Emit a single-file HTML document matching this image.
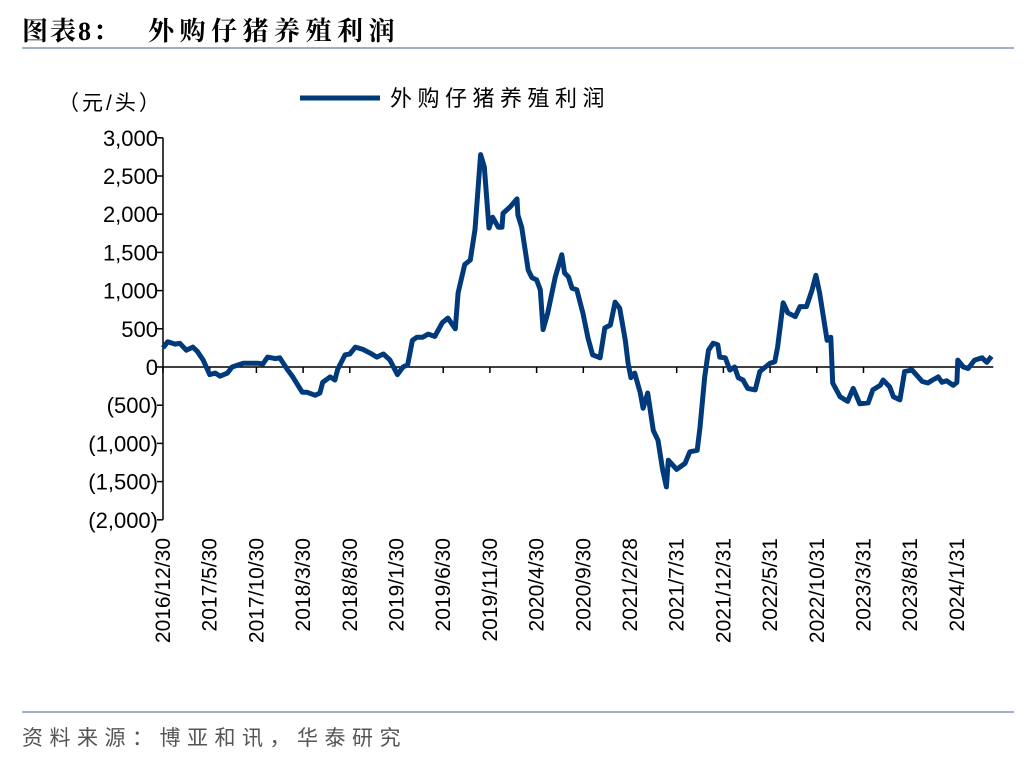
<!DOCTYPE html>
<html><head><meta charset="utf-8">
<style>
body{margin:0;background:#fff;width:1036px;height:760px;overflow:hidden;font-family:"Liberation Sans","Noto Sans CJK SC",sans-serif;}
svg text{font-family:"Liberation Sans","Noto Sans CJK SC",sans-serif;}
</style></head>
<body>
<svg id="chart" width="1036" height="760">
<text x="22" y="40" font-size="26" font-weight="bold" fill="#000" style="font-family:'Liberation Serif','Noto Serif CJK SC',serif"><tspan letter-spacing="2">图表8：</tspan><tspan x="148" letter-spacing="5.5">外购仔猪养殖利润</tspan></text>
<line x1="22" y1="48" x2="1014" y2="48" stroke="#7f93b0" stroke-width="1.5"/>
<text x="58" y="110" font-size="21" fill="#000" letter-spacing="3">（元/头）</text>
<line x1="300" y1="98" x2="380" y2="98" stroke="#003a7a" stroke-width="5"/>
<text x="390" y="106" font-size="22" fill="#000" letter-spacing="5.5">外购仔猪养殖利润</text>
<g id="axes"></g>
<path id="series" fill="none" stroke="#003a7a" stroke-width="5" stroke-linejoin="round"/>
<line x1="22" y1="712" x2="1014" y2="712" stroke="#7f93b0" stroke-width="1.5"/>
<text x="22" y="745" font-size="21" fill="#555" letter-spacing="6.5">资料来源：博亚和讯，华泰研究</text>
</svg>
<script>
const months=[0,0.5,1.3,1.8,2.5,3.2,3.7,4.3,5.0,5.6,6.1,6.9,7.4,8.6,10.1,10.7,11.2,12.0,12.5,13.3,13.9,14.9,15.4,16.3,16.8,17.1,17.9,18.4,18.7,19.5,20.0,20.6,21.4,22.2,22.9,23.6,24.3,25.1,25.7,26.2,26.7,27.2,27.8,28.4,29.1,29.9,30.5,31.3,31.6,32.3,32.9,33.4,34.0,34.4,34.9,35.3,35.9,36.3,36.4,37.2,37.9,38.0,38.4,39.1,39.5,40.0,40.4,40.7,41.2,42.0,42.7,43.0,43.4,43.8,44.3,44.97,45.5,46.0,46.8,47.3,47.9,48.4,48.9,49.5,49.8,50.1,50.5,51.1,51.4,51.9,52.5,53.0,53.5,53.9,54.1,55.0,55.9,56.4,57.2,57.5,58.0,58.4,58.9,59.4,59.6,60.2,60.7,61.2,61.6,62.1,62.6,63.4,63.9,64.5,65.0,65.5,65.8,66.4,66.9,67.7,68.2,68.9,69.5,69.9,70.3,71.1,71.5,71.7,72.5,73.3,73.9,74.6,75.5,76.0,76.8,77.1,77.8,78.2,78.9,79.4,80.2,81.3,81.9,82.4,83.0,83.4,83.9,84.6,85.0,85.1,85.7,86.2,86.9,87.7,88.2,88.7];
const profit=[250,330,300,310,220,260,200,90,-100,-80,-120,-80,0,50,50,40,130,110,120,-30,-130,-330,-330,-370,-340,-200,-130,-170,-30,160,170,260,230,180,130,170,90,-100,0,30,350,390,390,430,400,580,640,500,970,1340,1400,1800,2780,2620,1820,1960,1830,1830,2010,2100,2200,1990,1830,1270,1170,1140,1010,490,710,1180,1470,1230,1180,1030,1010,700,380,160,120,510,550,850,770,350,50,-140,-80,-340,-540,-340,-830,-960,-1350,-1570,-1220,-1340,-1260,-1110,-1090,-790,-130,220,310,290,130,120,-40,0,-140,-170,-280,-300,-60,0,50,70,260,840,710,660,790,790,1010,1200,970,350,390,-210,-390,-450,-280,-480,-470,-300,-240,-170,-260,-390,-430,-60,-40,-190,-210,-170,-130,-200,-180,-240,-200,90,0,-20,90,120,60,140];
const yTicks=[3000,2500,2000,1500,1000,500,0,-500,-1000,-1500,-2000];
const yTickLabels=["3,000","2,500","2,000","1,500","1,000","500","0","(500)","(1,000)","(1,500)","(2,000)"];
const xTickMonths=[0,5,10,15,20,25,30,35,40,45,50,55,60,65,70,75,80,85];
const xTickLabels=["2016/12/30","2017/5/30","2017/10/30","2018/3/30","2018/8/30","2019/1/30","2019/6/30","2019/11/30","2020/4/30","2020/9/30","2021/2/28","2021/7/31","2021/12/31","2022/5/31","2022/10/31","2023/3/31","2023/8/31","2024/1/31"];

const X0=163,PXM=9.34,Y0=367,PXV=(520-138)/5000;
const xs=m=>X0+m*PXM, ys=v=>Y0-v*PXV;
const NS="http://www.w3.org/2000/svg";
const g=document.getElementById('axes');
function mk(tag,attrs){const e=document.createElementNS(NS,tag);for(const k in attrs)e.setAttribute(k,attrs[k]);g.appendChild(e);return e;}
let ax=mk('line',{x1:X0,y1:ys(3000),x2:X0,y2:ys(-2000),stroke:'#000','stroke-width':1.5});


let zx=mk('line',{x1:X0,y1:Y0,x2:xs(88.9),y2:Y0,stroke:'#000','stroke-width':1.5});


yTicks.forEach((v,i)=>{
  const t=mk('line',{x1:X0-6,y1:ys(v),x2:X0,y2:ys(v),stroke:'#000','stroke-width':1.5});
  
  
  const l=mk('text',{x:X0-5,y:ys(v)+8,'font-size':22,'text-anchor':'end',fill:'#000'});
  l.textContent=yTickLabels[i];
  
  
});
xTickMonths.forEach((m,i)=>{
  const x=xs(m);
  const t=mk('line',{x1:x,y1:Y0,x2:x,y2:Y0+6,stroke:'#000','stroke-width':1.5});
  
  
  const l=mk('text',{x:0,y:0,'font-size':21,'text-anchor':'end',fill:'#000',transform:`translate(${x+7},538) rotate(-90)`});
  l.textContent=xTickLabels[i];
  
  
});
document.getElementById('series').setAttribute('d',months.map((m,i)=>(i?'L':'M')+xs(m).toFixed(1)+','+ys(profit[i]).toFixed(1)).join(''));
</script>
</body></html>
